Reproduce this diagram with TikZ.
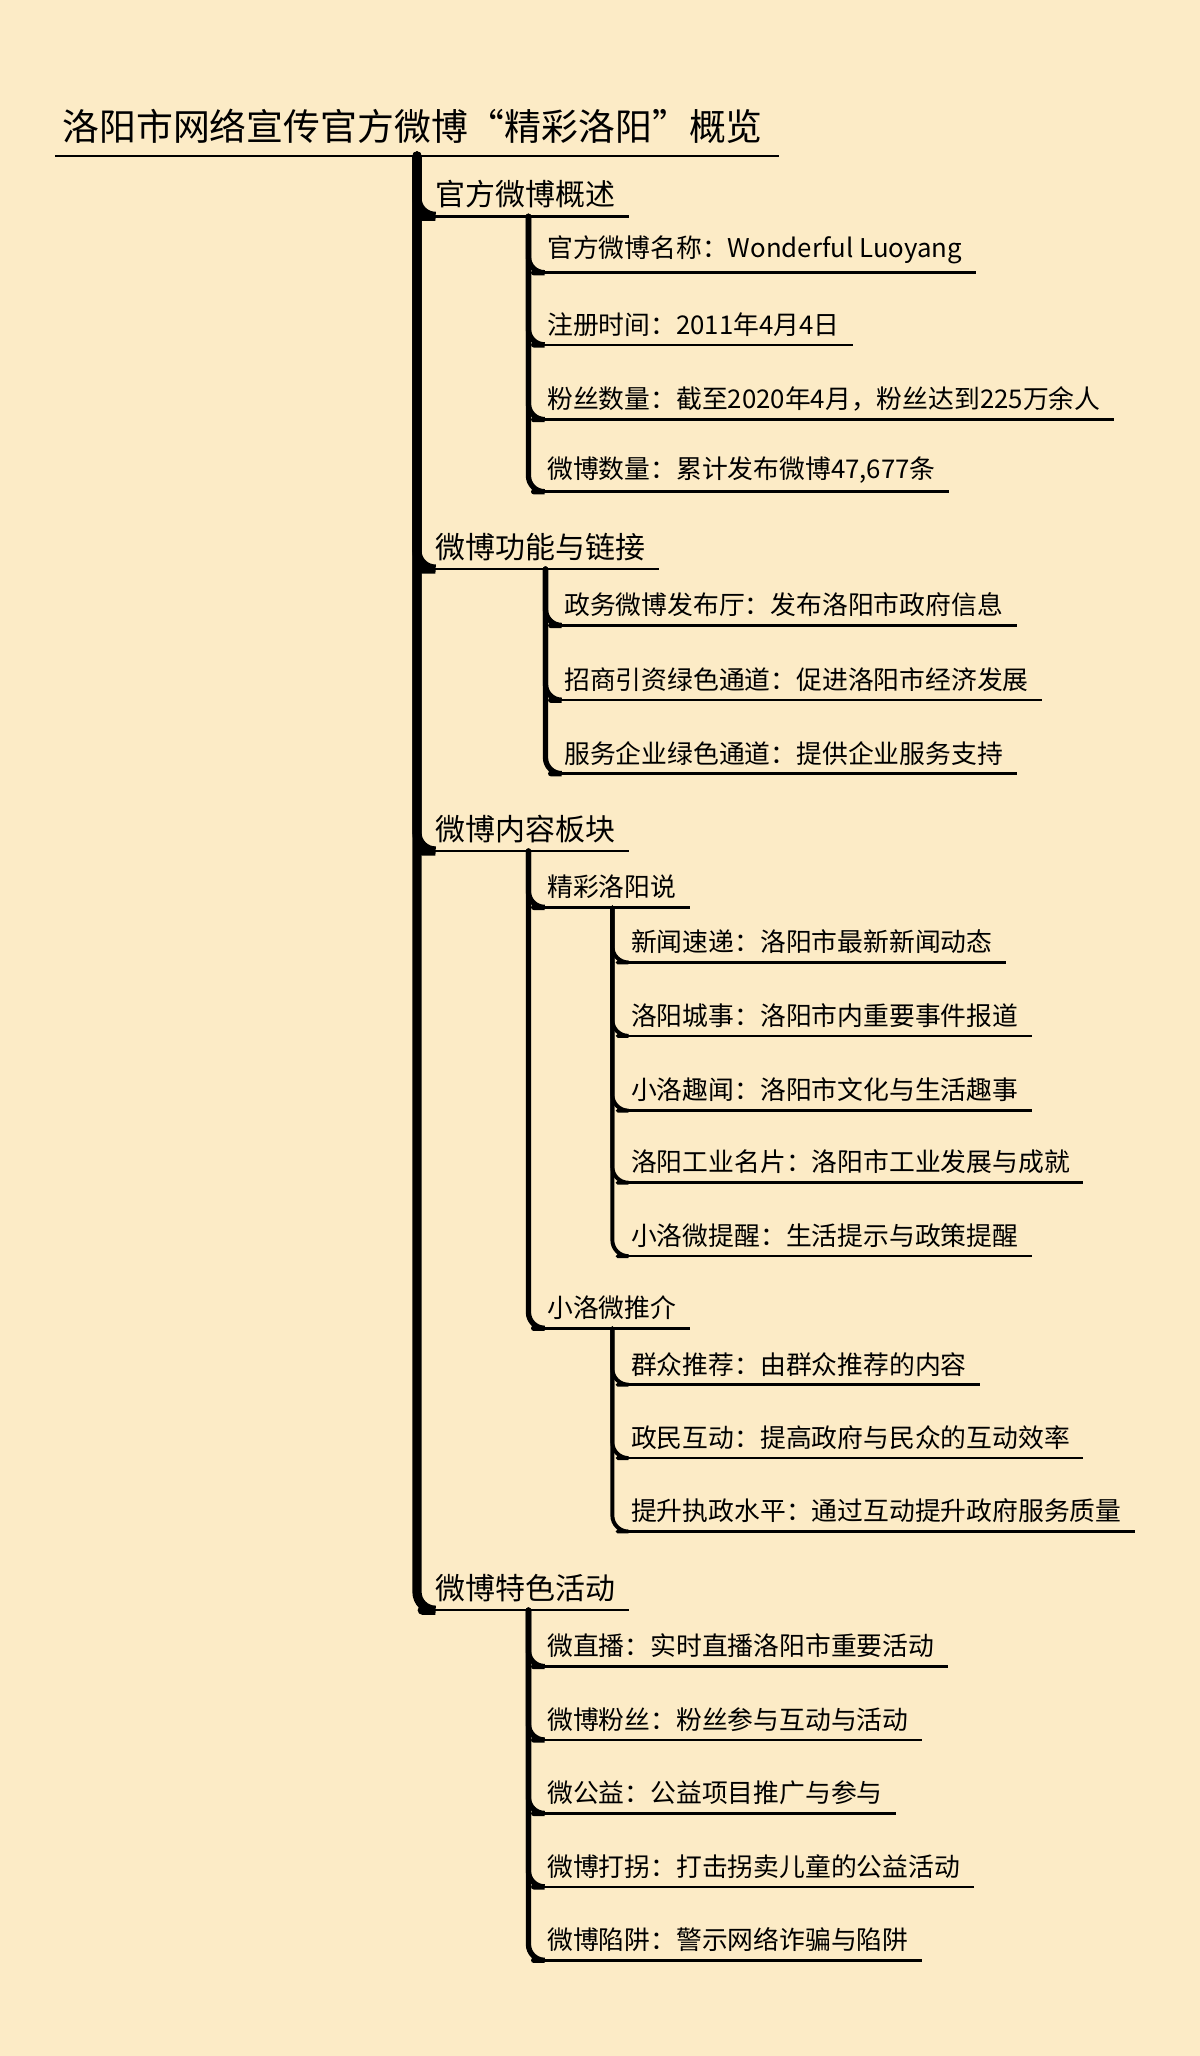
\documentclass[tikz,border=0pt]{standalone}
\usepackage{fontspec}
\newfontfamily\cjk{Noto Sans CJK SC}
\definecolor{bg}{RGB}{252,235,198}
\tikzset{
  lab/.style={anchor=south west, inner xsep=5.7pt, inner ysep=3.5pt, font=\cjk\fontsize{11.2}{13}\selectfont},
  lab1/.style={lab, font=\cjk\fontsize{13}{15}\selectfont},
  labt/.style={lab, inner xsep=3pt, inner ysep=5pt, font=\cjk\fontsize{16}{18}\selectfont},
  ul/.style={line width=1.1pt},
  br1/.style={line width=4pt, rounded corners=8pt, line cap=round},
  br2/.style={line width=2.3pt, rounded corners=7pt, line cap=round},
  br3/.style={line width=1.7pt, rounded corners=7pt, line cap=round}
}
\begin{document}
\begin{tikzpicture}[x=0.02cm,y=0.02cm]
\fill[bg] (0,0) rectangle (915,-1568);
\useasboundingbox (0,0) rectangle (915,-1568);
% title
\node[labt] (t) at (42,-119) {洛阳市网络宣传官方微博“精彩洛阳”概览};
\draw[ul] (t.south west) -- (594,-119);
\coordinate (p0) at (318,-119);
% level 1
\node[lab1] (a) at (322,-165) {官方微博概述};
\node[lab1] (b) at (322,-434) {微博功能与链接};
\node[lab1] (c) at (322,-649) {微博内容板块};
\node[lab1] (d) at (322,-1228) {微博特色活动};
\foreach \n in {a,b,c,d}{
  \draw[ul] (\n.south west) -- (\n.south east);
  \draw[br1] (p0) |- (\n.south west);
}
% a children
\coordinate (pa) at (403,-165);
\node[lab] (a1) at (407,-208) {官方微博名称：Wonderful Luoyang};
\node[lab] (a2) at (407,-263) {注册时间：2011年4月4日};
\node[lab] (a3) at (407,-320) {粉丝数量：截至2020年4月，粉丝达到225万余人};
\node[lab] (a4) at (407,-375) {微博数量：累计发布微博47,677条};
\foreach \n in {a1,a2,a3,a4}{
  \draw[ul] (\n.south west) -- (\n.south east);
  \draw[br2] (pa) |- (\n.south west);
}
% b children
\coordinate (pb) at (416,-434);
\node[lab] (b1) at (420,-477) {政务微博发布厅：发布洛阳市政府信息};
\node[lab] (b2) at (420,-534) {招商引资绿色通道：促进洛阳市经济发展};
\node[lab] (b3) at (420,-590) {服务企业绿色通道：提供企业服务支持};
\foreach \n in {b1,b2,b3}{
  \draw[ul] (\n.south west) -- (\n.south east);
  \draw[br2] (pb) |- (\n.south west);
}
% c children
\coordinate (pc) at (403,-649);
\node[lab] (c1) at (407,-692) {精彩洛阳说};
\node[lab] (c2) at (407,-1013) {小洛微推介};
\foreach \n in {c1,c2}{
  \draw[ul] (\n.south west) -- (\n.south east);
  \draw[br2] (pc) |- (\n.south west);
}
\coordinate (pc1) at (467,-692);
\node[lab] (c11) at (471,-734) {新闻速递：洛阳市最新新闻动态};
\node[lab] (c12) at (471,-790) {洛阳城事：洛阳市内重要事件报道};
\node[lab] (c13) at (471,-847) {小洛趣闻：洛阳市文化与生活趣事};
\node[lab] (c14) at (471,-902) {洛阳工业名片：洛阳市工业发展与成就};
\node[lab] (c15) at (471,-958) {小洛微提醒：生活提示与政策提醒};
\foreach \n in {c11,c12,c13,c14,c15}{
  \draw[ul] (\n.south west) -- (\n.south east);
  \draw[br3] (pc1) |- (\n.south west);
}
\coordinate (pc2) at (467,-1013);
\node[lab] (c21) at (471,-1056) {群众推荐：由群众推荐的内容};
\node[lab] (c22) at (471,-1112) {政民互动：提高政府与民众的互动效率};
\node[lab] (c23) at (471,-1168) {提升执政水平：通过互动提升政府服务质量};
\foreach \n in {c21,c22,c23}{
  \draw[ul] (\n.south west) -- (\n.south east);
  \draw[br3] (pc2) |- (\n.south west);
}
% d children
\coordinate (pd) at (403,-1228);
\node[lab] (d1) at (407,-1271) {微直播：实时直播洛阳市重要活动};
\node[lab] (d2) at (407,-1327) {微博粉丝：粉丝参与互动与活动};
\node[lab] (d3) at (407,-1383) {微公益：公益项目推广与参与};
\node[lab] (d4) at (407,-1439) {微博打拐：打击拐卖儿童的公益活动};
\node[lab] (d5) at (407,-1495) {微博陷阱：警示网络诈骗与陷阱};
\foreach \n in {d1,d2,d3,d4,d5}{
  \draw[ul] (\n.south west) -- (\n.south east);
  \draw[br2] (pd) |- (\n.south west);
}
\end{tikzpicture}
\end{document}
